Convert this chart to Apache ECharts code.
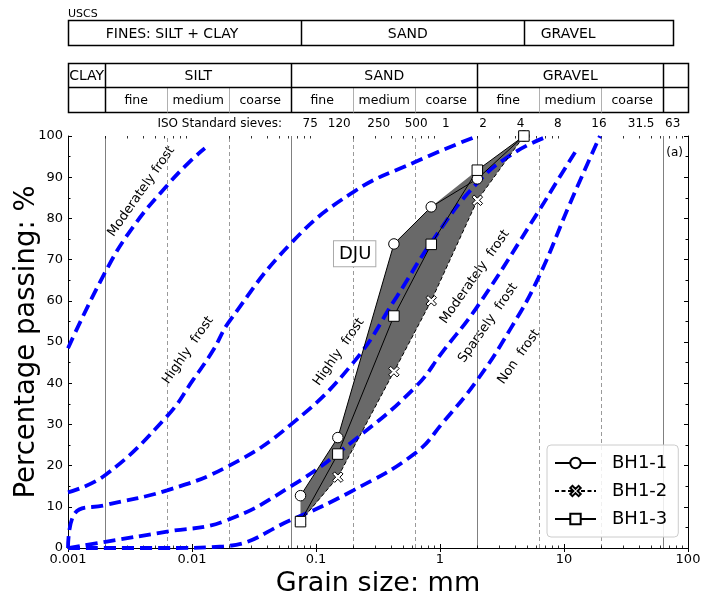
<!DOCTYPE html>
<html><head><meta charset="utf-8">
<script src="https://cdn.jsdelivr.net/npm/echarts@6/dist/echarts.min.js"></script>
<style>html,body{margin:0;padding:0;background:#fff}#c{width:709px;height:611px}</style>
</head><body><div id="c"></div>
<script>
// ---------- data ----------
const sizes = [0.075, 0.15, 0.425, 0.85, 2, 4.75];
const bh1 = [12.7, 26.8, 73.8, 82.8, 89.6, 100];
const bh2 = [6.5, 17.2, 42.8, 60.0, 84.4, 100];
const bh3 = [6.4, 22.8, 56.3, 73.7, 91.7, 100];

const frostA_x = [0.001, 0.002, 0.00336, 0.0063, 0.0096, 0.0127];
const frostA_y = [48.5, 67, 78, 88, 93.8, 97];
const frostB_x = [0.001, 0.002, 0.0063, 0.0102, 0.0148, 0.02, 0.063, 0.2, 0.63, 2];
const frostB_y = [13.5, 17.7, 32, 40.8, 48, 55, 74, 86.4, 93.7, 100];
const frostC_x = [0.001, 0.00114, 0.002, 0.0063, 0.02, 0.063, 0.2, 0.448, 0.88, 1.98, 3.9, 7.5];
const frostC_y = [0, 8.5, 10.4, 14, 20, 30, 45, 61, 74.8, 88.5, 95.8, 100];
const frostD_x = [0.001, 0.002, 0.0063, 0.0178, 0.063, 0.2, 0.63, 1.06, 2, 6.2, 8.9, 12.6];
const frostD_y = [0, 1.5, 4, 6.4, 15, 26, 39, 47.8, 58.6, 81.6, 89.3, 96.6];
const frostE_x = [0.001, 0.0063, 0.018, 0.063, 0.2, 0.63, 1.06, 2, 3.67, 6.2, 11.2, 19.5];
const frostE_y = [0, 0, 0.4, 6.8, 14, 23, 30.5, 40.8, 53, 65.5, 83.7, 100];

const xTickLabels = ['0.001', '0.01', '0.1', '1', '10', '100'];
const solidBounds = [0.002, 0.063, 2, 63];
const dashedBounds = [0.0063, 0.02, 0.2, 0.63, 6.3, 20];

const uscsBounds = [0.001, 0.075, 4.75, 75];
const uscsLabels = ['FINES: SILT + CLAY', 'SAND', 'GRAVEL'];
const mainBounds = [0.001, 0.002, 0.063, 2, 63, 100];
const mainLabels = ['CLAY', 'SILT', 'SAND', 'GRAVEL', ''];
const subBounds = [0.002, 0.0063, 0.02, 0.063, 0.2, 0.63, 2, 6.3, 20, 63];
const subLabels = ['fine', 'medium', 'coarse', 'fine', 'medium', 'coarse', 'fine', 'medium', 'coarse'];
const sieves = [0.075, 0.12, 0.25, 0.5, 1, 2, 4, 8, 16, 31.5, 63];
const sieveLabels = ['75', '120', '250', '500', '1', '2', '4', '8', '16', '31.5', '63'];

const frostTexts = ['Moderately frost', 'Highly  frost', 'Highly  frost', 'Moderately  frost', 'Sparsely  frost', 'Non  frost'];

// minor ticks of the log axis (2..9 per decade)
const minorTicks = [];
[0.001, 0.01, 0.1, 1, 10].forEach(d => { for (let k = 2; k <= 9; k++) minorTicks.push(+(d * k).toPrecision(3)); });

// ---------- chart ----------
const FONT = 'DejaVu Sans';
const chart = echarts.init(document.getElementById('c'), null, {renderer: 'canvas'});
const blueDash = {color: '#0000ff', width: 3.8, type: [12, 6]};
const frost = (xs, ys) => ({type: 'line', data: xs.map((x, i) => [x, ys[i]]), smooth: 0.45,
  symbol: 'none', lineStyle: blueDash, z: 4, silent: true, animation: false});
const xPath = 'path://M2,0 L5,3 L8,0 L10,2 L7,5 L10,8 L8,10 L5,7 L2,10 L0,8 L3,5 L0,2 Z';
const bh = (name, ys, symbol, dashed) => ({type: 'line', name, data: sizes.map((s, i) => [s, ys[i]]),
  symbol, symbolSize: 10.5, showAllSymbol: true,
  itemStyle: {color: '#fff', borderColor: '#000', borderWidth: 1},
  lineStyle: {color: '#000', width: 1, type: dashed ? [4, 2.5] : 'solid'}, z: 6, animation: false});
const vline = (vals, stroke, dash) => ({type: 'custom', data: vals.map(v => [v, 0]), z: 1, silent: true,
  renderItem: (p, api) => { const a = api.coord([api.value(0), 0]), b = api.coord([api.value(0), 100]);
    const x = Math.round(a[0]) + 0.5;
    return {type: 'line', shape: {x1: x, y1: a[1], x2: x, y2: b[1]}, style: {stroke, lineWidth: 1, lineDash: dash}}; }});

const tickLbl = v => { const s = +(+v).toPrecision(3); const str = String(s); return xTickLabels.includes(str) ? str : ''; };

const option = {
  animation: false,
  grid: {left: 68, top: 136, width: 620, height: 412, outerBoundsMode: 'none', containLabel: false},
  xAxis: [
    {type: 'log', logBase: 10, min: 0.001, max: 100, position: 'bottom',
     axisLine: {show: true, lineStyle: {color: '#000', width: 1}},
     axisTick: {inside: true, length: 4, lineStyle: {color: '#000'}},
     axisLabel: {color: '#000', fontSize: 13, fontFamily: FONT, margin: 5, formatter: tickLbl},
     splitLine: {show: false}, minorTick: {show: false},
     name: 'Grain size: mm', nameLocation: 'middle', nameGap: 22, nameMoveOverlap: false,
     nameTextStyle: {fontSize: 27, fontFamily: FONT, color: '#000', verticalAlign: 'top'}},
    {type: 'log', logBase: 10, min: 0.001, max: 100, position: 'top',
     axisLine: {show: true, lineStyle: {color: '#000', width: 1}},
     axisTick: {inside: true, length: 4, lineStyle: {color: '#000'}},
     axisLabel: {show: false}, splitLine: {show: false}}
  ],
  yAxis: [
    {type: 'value', min: 0, max: 100, interval: 10, position: 'left',
     axisLine: {show: true, lineStyle: {color: '#000', width: 1}},
     axisTick: {inside: true, length: 4, lineStyle: {color: '#000'}},
     minorTick: {show: true, splitNumber: 2, length: 2.5, lineStyle: {color: '#000'}},
     axisLabel: {color: '#000', fontSize: 13, fontFamily: FONT, margin: 5},
     splitLine: {show: false},
     name: 'Percentage passing: %', nameLocation: 'middle', nameGap: 27, nameMoveOverlap: false,
     nameTextStyle: {fontSize: 27.5, fontFamily: FONT, color: '#000'}},
    {type: 'value', min: 0, max: 100, interval: 10, position: 'right',
     axisLine: {show: true, lineStyle: {color: '#000', width: 1}},
     axisTick: {inside: true, length: 4, lineStyle: {color: '#000'}},
     minorTick: {show: true, splitNumber: 2, length: 2.5, lineStyle: {color: '#000'}},
     axisLabel: {show: false}, splitLine: {show: false}}
  ],
  legend: {data: ['BH1-1', 'BH1-2', 'BH1-3'], orient: 'vertical', left: 547, top: 445,
    padding: [9, 11, 9, 7], itemGap: 10, itemWidth: 41, itemHeight: 13,
    textStyle: {fontSize: 18, fontFamily: FONT, color: '#000', padding: [0, 0, 0, 11]},
    borderColor: '#cccccc', borderWidth: 1, borderRadius: 4, backgroundColor: 'rgba(255,255,255,0.85)'},
  series: [
    vline(solidBounds, '#808080', null),
    vline(dashedBounds, '#9a9a9a', [4, 3]),
    {type: 'custom', data: [[1, 50]], z: 2, silent: true,
     renderItem: (p, api) => {
       const top = sizes.map((s, i) => api.coord([s, Math.max(bh1[i], bh2[i], bh3[i])]));
       const bot = sizes.map((s, i) => api.coord([s, Math.min(bh1[i], bh2[i], bh3[i])])).reverse();
       return {type: 'polygon', shape: {points: top.concat(bot)}, style: {fill: '#696969', stroke: null}};
     }},
    {type: 'custom', data: minorTicks.map(v => [v, 0]), z: 3, silent: true,
     renderItem: (p, api) => { const a = api.coord([api.value(0), 0]), b = api.coord([api.value(0), 100]);
       const x = Math.round(a[0]) + 0.5;
       return {type: 'group', children: [
         {type: 'line', shape: {x1: x, y1: a[1], x2: x, y2: a[1] - 2.5}, style: {stroke: '#000', lineWidth: 0.8}},
         {type: 'line', shape: {x1: x, y1: b[1], x2: x, y2: b[1] + 2.5}, style: {stroke: '#000', lineWidth: 0.8}}]}; }},
    frost(frostA_x, frostA_y), frost(frostB_x, frostB_y), frost(frostC_x, frostC_y),
    frost(frostD_x, frostD_y), frost(frostE_x, frostE_y),
    bh('BH1-1', bh1, 'circle', false),
    bh('BH1-2', bh2, xPath, true),
    bh('BH1-3', bh3, 'rect', false)
  ]
};
chart.setOption(option);

// ---------- decorations placed through the axis scales ----------
const X = v => chart.convertToPixel({xAxisIndex: 0}, v);
const Y = v => chart.convertToPixel({yAxisIndex: 0}, v);
const g = [];
const R = v => Math.round(v) + 0.5;
const L = (x1, y1, x2, y2, stroke, w) => ({type: 'line', silent: true, shape: {x1, y1, x2, y2}, style: {stroke, lineWidth: w}});
const T = (x, y, text, size, o = {}) => ({type: 'text', silent: true, x, y, rotation: o.rot || 0,
  style: {text, fontSize: size, fontFamily: FONT, fill: '#000', align: o.align || 'center', verticalAlign: o.va || 'middle'}});

// USCS table (label anchors in mm along the grain-size scale)
const uscsLabelAt = [0.0069, 0.55, 10.8];
const t1 = {top: 20.5, bot: 45.5};
const ux = uscsBounds.map(X);
g.push(T(ux[0], 14, 'USCS', 11, {align: 'left'}));
g.push({type: 'rect', silent: true, shape: {x: R(ux[0]), y: t1.top, width: R(ux[ux.length - 1]) - R(ux[0]), height: t1.bot - t1.top},
  style: {fill: 'none', stroke: '#000', lineWidth: 1.5}});
for (let i = 1; i < ux.length - 1; i++) g.push(L(R(ux[i]), t1.top, R(ux[i]), t1.bot, '#000', 1.5));
uscsLabels.forEach((s, i) => g.push(T(X(uscsLabelAt[i]), (t1.top + t1.bot) / 2 + 1, s, 14)));

// grain-size classes table
const t2 = {top: 63.5, mid: 87.5, bot: 112.5};
const mx = mainBounds.map(X);
g.push({type: 'rect', silent: true, shape: {x: R(mx[0]), y: t2.top, width: R(mx[mx.length - 1]) - R(mx[0]), height: t2.bot - t2.top},
  style: {fill: 'none', stroke: '#000', lineWidth: 1.5}});
const sx = subBounds.map(X);
subBounds.forEach((b, i) => { if (!mainBounds.includes(b)) g.push(L(R(sx[i]), t2.mid, R(sx[i]), t2.bot, '#b0b0b0', 1)); });
g.push(L(R(mx[0]), t2.mid, R(mx[mx.length - 1]), t2.mid, '#000', 1.5));
for (let i = 1; i < mx.length - 1; i++) g.push(L(R(mx[i]), t2.top, R(mx[i]), t2.bot, '#000', 1.5));
mainLabels.forEach((s, i) => { if (s) g.push(T((mx[i] + mx[i + 1]) / 2, (t2.top + t2.mid) / 2 + 1, s, 14)); });
subLabels.forEach((s, i) => g.push(T((sx[i] + sx[i + 1]) / 2, (t2.mid + t2.bot) / 2 + 1, s, 12.5)));

// ISO sieves row
g.push(T(282, 124, 'ISO Standard sieves:', 12, {align: 'right'}));
sieves.forEach((s, i) => g.push(T(X(s) + 2, 124, sieveLabels[i], 12, {align: 'left'})));

// frost zone labels (anchored in data coordinates)
const frostTextAt = [[0.0039, 86.5], [0.0093, 48], [0.153, 47.6], [1.91, 65.8], [2.44, 54.6], [4.33, 46.4]];
frostTexts.forEach((s, i) => { const p = frostTextAt[i];
  g.push(T(X(p[0]), Y(p[1]), s, 13, {rot: 55 * Math.PI / 180})); });

// DJU box and panel tag
g.push({type: 'text', silent: true, x: X(0.205), y: Y(71.4), z: 10,
  style: {text: 'DJU', fontSize: 18, fontFamily: FONT, fill: '#000', align: 'center', verticalAlign: 'middle',
    backgroundColor: '#fff', borderColor: '#aaaaaa', borderWidth: 1, padding: [4, 4, 3, 5]}});
g.push(T(X(100) - 5, Y(100) + 17, '(a)', 12, {align: 'right'}));

chart.setOption({graphic: {elements: g}});
</script></body></html>
